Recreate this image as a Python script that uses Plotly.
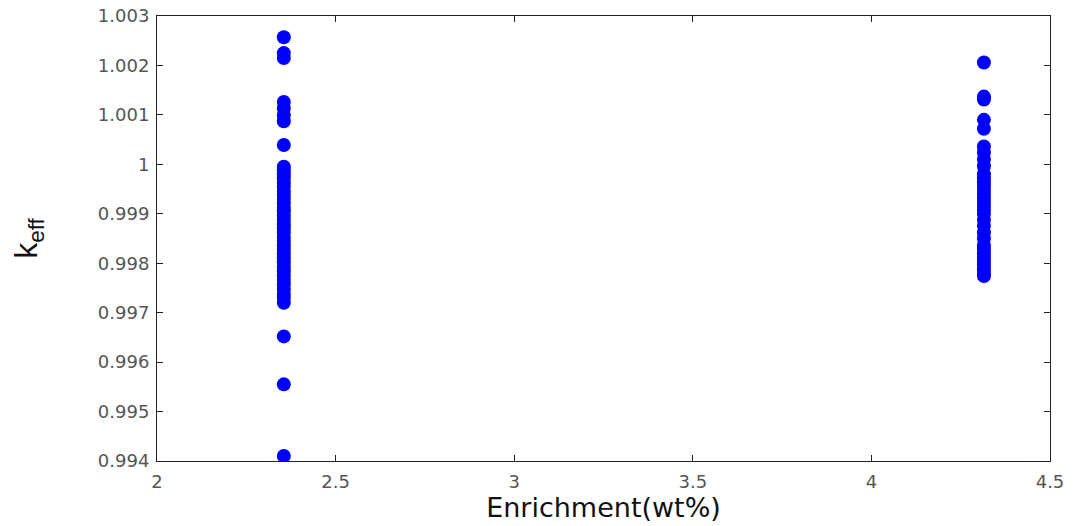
import plotly.graph_objects as go

# Enrichment values (wt%) for the two groups
x_left = 2.355
x_right = 4.315

# k_eff values
k_left = [1.00257, 1.00225, 1.00215, 1.00126, 1.00113, 1.00099, 1.00087, 1.00039,
          0.99995, 0.99988, 0.99980, 0.99972, 0.99963, 0.99955, 0.99946, 0.99938,
          0.99930, 0.99921, 0.99912, 0.99905, 0.99896, 0.99888, 0.99879, 0.99871,
          0.99862, 0.99853, 0.99845, 0.99836, 0.99828, 0.99820, 0.99811, 0.99802,
          0.99793, 0.99784, 0.99775, 0.99766, 0.99757, 0.99748, 0.99738, 0.99730,
          0.99720, 0.99652, 0.99555, 0.99410]
k_right = [1.00206, 1.00137, 1.00131, 1.00090, 1.00072, 1.00036, 1.00024, 1.00010,
           0.99996, 0.99980, 0.99972, 0.99964, 0.99956, 0.99948, 0.99940, 0.99932,
           0.99924, 0.99916, 0.99908, 0.99900, 0.99888, 0.99876, 0.99862, 0.99850,
           0.99836, 0.99828, 0.99820, 0.99812, 0.99804, 0.99796, 0.99788, 0.99780,
           0.99774]

x_ticks = [2, 2.5, 3, 3.5, 4, 4.5]
x_tick_labels = ["2", "2.5", "3", "3.5", "4", "4.5"]
y_ticks = [0.994, 0.995, 0.996, 0.997, 0.998, 0.999, 1.000, 1.001, 1.002, 1.003]
y_tick_labels = ["0.994", "0.995", "0.996", "0.997", "0.998", "0.999", "1", "1.001", "1.002", "1.003"]

xs = [x_left] * len(k_left) + [x_right] * len(k_right)
ys = k_left + k_right

fig = go.Figure()
fig.add_trace(go.Scatter(
    x=xs, y=ys, mode="markers",
    marker=dict(color="#0000FF", size=14, line=dict(width=0)),
    showlegend=False,
))

axis_common = dict(
    showgrid=False, zeroline=False, showline=True, linecolor="#222222", linewidth=1,
    mirror="ticks", ticks="inside", ticklen=6, tickcolor="#222222", automargin=False,
    tickfont=dict(family="DejaVu Sans, Arial, sans-serif", size=18, color="#555555"),
)

fig.update_layout(
    width=1076, height=526,
    margin=dict(l=157, r=26, t=16, b=65),
    paper_bgcolor="white", plot_bgcolor="white",
    xaxis=dict(range=[2, 4.5], tickvals=x_ticks, ticktext=x_tick_labels,
               ticklabelstandoff=4,
               title=dict(text="Enrichment(wt%)", standoff=2,
                          font=dict(family="DejaVu Sans, Arial, sans-serif",
                                    size=27, color="#111111")),
               **axis_common),
    yaxis=dict(range=[0.994, 1.003], tickvals=y_ticks, ticktext=y_tick_labels,
               ticklabelstandoff=3,
               title=dict(text="k<sub>eff</sub>", standoff=50,
                          font=dict(family="Liberation Sans, Arial, sans-serif",
                                    size=32, color="#111111")),
               **axis_common),
)

fig.write_html("out.html",
               config={"displayModeBar": False},
               post_script="document.body.style.margin='0';document.body.style.padding='0';")
